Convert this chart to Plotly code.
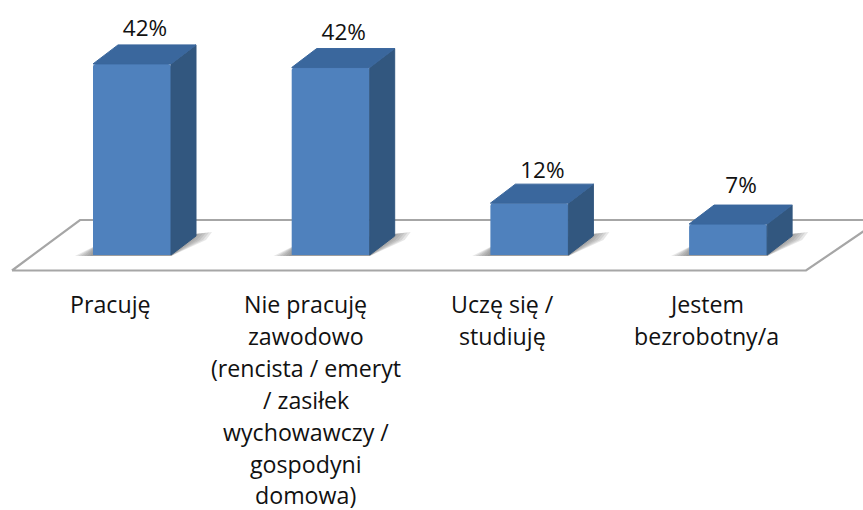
import plotly.graph_objects as go

categories = ["Pracuję", "Nie pracuję zawodowo", "Uczę się / studiuję", "Jestem bezrobotny/a"]
heights = [42.0, 41.2, 11.4, 6.8]
value_labels = ["42%", "42%", "12%", "7%"]
category_lines = [
    ["Pracuję"],
    ["Nie pracuję", "zawodowo", "(rencista / emeryt", "/ zasiłek", "wychowawczy /", "gospodyni", "domowa)"],
    ["Uczę się /", "studiuję"],
    ["Jestem", "bezrobotny/a"],
]

W, H = 863, 510
PX_X = 198.7          # pixels per category
PX_Y = 4.55           # pixels per percentage point
X0, Y0 = 132, 255     # pixel of first category centre / of value 0
BAR = 78 / PX_X
DX = 25 / PX_X
DY_TOP = 19 / PX_Y
DY_BOT = 19 / PX_Y
xr = [-X0 / PX_X, (W - X0) / PX_X]
yr = [(Y0 - H) / PX_Y, Y0 / PX_Y]
FONT = "Open Sans"
xs = list(range(len(categories)))
label_lift = [3, 3, 1, 6]
category_shift = [-22, -25, -27, -22]

fig = go.Figure()

# floor
fx = [(12 - X0) / PX_X, (80 - X0) / PX_X, (880 - X0) / PX_X, (806 - X0) / PX_X, (12 - X0) / PX_X]
fy = [-15.5 / PX_Y, 35 / PX_Y, 35 / PX_Y, -15.5 / PX_Y, -15.5 / PX_Y]
fig.add_trace(go.Scatter(x=fx, y=fy, mode="lines", line=dict(color="#A6A6A6", width=2.2),
                         fill="toself", fillcolor="#FFFFFF", hoverinfo="skip", showlegend=False))

# soft shadows at the foot of each bar: nested translucent wedges imitate the blur
for x in xs:
    l = x - BAR / 2
    r = x + BAR / 2
    for step in range(6):
        s = step * 3
        sx = [l - (18 - s) / PX_X, l + 4 / PX_X, r + DX + (16 - s) / PX_X, r + DX + (10 - s) / PX_X, r, l - (18 - s) / PX_X]
        sy = [-1 / PX_Y, 10 / PX_Y, (23 - step * 0.4) / PX_Y, 15 / PX_Y, -1 / PX_Y, -1 / PX_Y]
        fig.add_trace(go.Scatter(
            x=sx, y=sy, mode="lines", line=dict(width=0), fill="toself",
            fillcolor="rgba(110,110,110,0.17)", hoverinfo="skip", showlegend=False))

# front faces
fig.add_trace(go.Bar(x=xs, y=heights, width=BAR, xaxis="x2", yaxis="y2",
                     marker=dict(color="#4F81BD", line=dict(width=0), cornerradius=3),
                     hoverinfo="skip", showlegend=False))

# side and top faces
for x, h in zip(xs, heights):
    r = x + BAR / 2
    l = x - BAR / 2
    fig.add_trace(go.Scatter(
        x=[r, r + DX, r + DX, r, r], y=[h, h + DY_TOP, DY_BOT, 0, h],
        xaxis="x2", yaxis="y2", mode="lines", line=dict(color="#32577F", width=1),
        fill="toself", fillcolor="#32577F", hoverinfo="skip", showlegend=False))
    fig.add_trace(go.Scatter(
        x=[l, l + DX, r + DX, r, l], y=[h, h + DY_TOP, h + DY_TOP, h, h],
        xaxis="x2", yaxis="y2", mode="lines", line=dict(color="#3A679D", width=1),
        fill="toself", fillcolor="#3A679D", hoverinfo="skip", showlegend=False))

# value labels
fig.add_trace(go.Scatter(
    x=[x + 13 / PX_X for x in xs],
    y=[h + DY_TOP + lift / PX_Y for h, lift in zip(heights, label_lift)],
    xaxis="x2", yaxis="y2", mode="text", text=value_labels, textposition="top center",
    textfont=dict(family=FONT, size=22.5, color="#111111"), hoverinfo="skip", showlegend=False))

# category labels, one text per wrapped line
annotations = []
for x, lines, shift in zip(xs, category_lines, category_shift):
    for i, line in enumerate(lines):
        annotations.append(dict(
            x=x + shift / PX_X, y=0, xref="x2", yref="y2",
            text=line, showarrow=False, yshift=-(49 + 31.9 * i), yanchor="middle",
            font=dict(family=FONT, size=23.2, color="#111111")))

ax = dict(visible=False, fixedrange=True)
fig.update_layout(
    width=W, height=H, margin=dict(l=0, r=0, t=0, b=0), autosize=False,
    paper_bgcolor="#FFFFFF", plot_bgcolor="#FFFFFF", showlegend=False,
    annotations=annotations,
    xaxis=dict(range=xr, **ax),
    yaxis=dict(range=yr, **ax),
    xaxis2=dict(range=xr, overlaying="x", **ax),
    yaxis2=dict(range=yr, overlaying="y", **ax),
)
fig.write_html("out.html", config=dict(displayModeBar=False),
               post_script="document.body.style.margin='0';")
